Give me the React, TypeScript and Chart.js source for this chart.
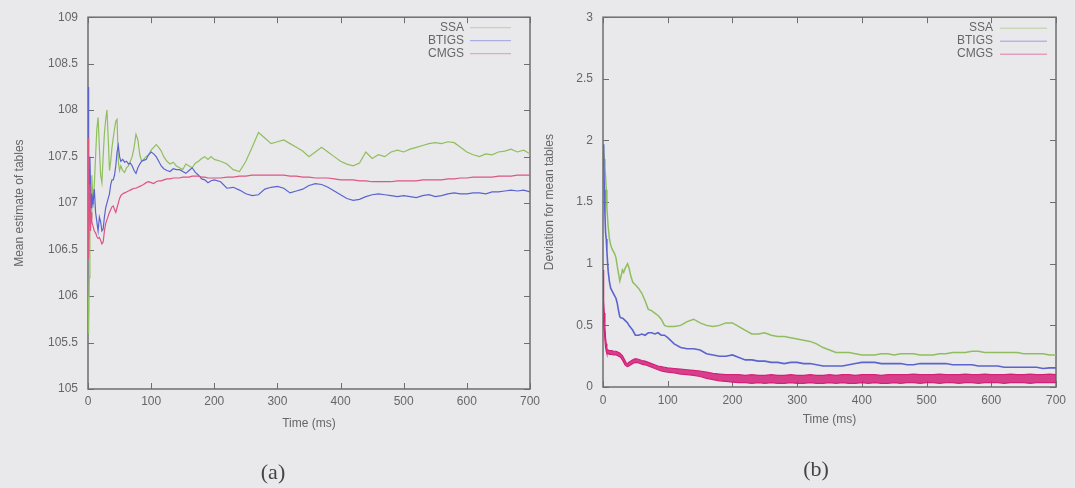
import React, { useEffect, useRef } from 'react';
import { Chart, registerables } from 'chart.js';

Chart.register(...registerables);

// ---------- Panel (a): mean estimate of tables ----------
const timeA = [
  0, 1, 2, 3, 4, 5, 6, 8, 10, 12, 14, 16, 18, 20, 22, 24, 26, 28, 30, 32, 34, 36, 38, 40, 42, 44, 46, 48, 50,
  52, 55, 58, 61, 64, 67, 70, 73, 76, 79, 82, 85, 88, 92, 96, 100, 104, 108, 112, 116, 120,
  125, 130, 135, 140, 145, 150, 155, 160, 165, 170, 175, 180, 185, 190, 195, 200,
  210, 220, 230, 240, 250, 260, 270, 280, 290, 300, 310, 320, 330, 340, 350, 360, 370, 380, 390, 400,
  410, 420, 430, 440, 450, 460, 470, 480, 490, 500, 510, 520, 530, 540, 550, 560, 570, 580, 590, 600,
  610, 620, 630, 640, 650, 660, 670, 680, 690, 700,
];

const ssaMean = [
  106.0, 105.6, 106.2, 106.7, 107.0, 106.85, 107.3, 107.0, 107.2, 107.5, 107.8, 107.92, 107.6, 107.3, 107.22,
  107.5, 107.75, 107.9, 108.0, 107.7, 107.35, 107.45, 107.6, 107.7, 107.8, 107.88, 107.9, 107.45, 107.35,
  107.4, 107.35, 107.33, 107.38, 107.4, 107.45, 107.5, 107.6, 107.74, 107.68, 107.52, 107.45, 107.47,
  107.5, 107.52, 107.57, 107.6, 107.63, 107.6, 107.56, 107.5,
  107.45, 107.42, 107.44, 107.4, 107.38, 107.36, 107.42, 107.4, 107.38, 107.43, 107.45, 107.48, 107.5, 107.47, 107.5, 107.47,
  107.45, 107.42, 107.36, 107.34, 107.45, 107.6, 107.76, 107.7, 107.64, 107.66,
  107.68, 107.64, 107.6, 107.56, 107.5, 107.55, 107.6, 107.55, 107.5, 107.45,
  107.42, 107.4, 107.43, 107.55, 107.48, 107.52, 107.5, 107.55, 107.57, 107.55,
  107.58, 107.6, 107.62, 107.64, 107.65, 107.64, 107.66, 107.65, 107.6, 107.55,
  107.52, 107.5, 107.53, 107.52, 107.55, 107.56, 107.58, 107.55, 107.57, 107.53,
];

const btigsMean = [
  108.25, 107.4, 106.9, 107.5, 107.2, 106.95, 107.1, 107.0, 107.15, 106.9, 106.8, 106.7, 106.85, 106.8, 106.7,
  106.72, 106.85, 106.95, 107.0, 107.05, 107.1, 107.2, 107.25, 107.25, 107.3, 107.4, 107.55, 107.62, 107.5,
  107.45, 107.47, 107.44, 107.45, 107.42, 107.43, 107.4, 107.35, 107.32, 107.38, 107.42, 107.45, 107.46,
  107.47, 107.52, 107.55, 107.53, 107.5, 107.45, 107.4, 107.37,
  107.35, 107.34, 107.37, 107.36, 107.36, 107.34, 107.32, 107.35, 107.38, 107.33, 107.3, 107.26, 107.25, 107.22, 107.24, 107.25,
  107.23, 107.16, 107.17, 107.14, 107.1, 107.08, 107.09, 107.15, 107.17, 107.18,
  107.16, 107.11, 107.13, 107.15, 107.19, 107.21, 107.2, 107.17, 107.13, 107.09,
  107.05, 107.03, 107.04, 107.07, 107.09, 107.1, 107.09, 107.08, 107.07, 107.08,
  107.07, 107.06, 107.08, 107.09, 107.07, 107.08, 107.1, 107.11, 107.1, 107.1,
  107.11, 107.11, 107.1, 107.12, 107.12, 107.13, 107.14, 107.13, 107.14, 107.12,
];

const cmgsMean = [
  107.7, 106.4, 106.9, 107.2, 106.7, 106.9, 106.8, 106.75, 106.7, 106.68, 106.64, 106.62, 106.63, 106.6, 106.56,
  106.58, 106.7, 106.78, 106.82, 106.86, 106.9, 106.93, 106.96, 106.97, 106.93, 106.9, 106.95, 107.0, 107.05,
  107.08, 107.1, 107.11, 107.12, 107.13, 107.14, 107.15, 107.16, 107.16, 107.17, 107.18, 107.19, 107.2,
  107.22, 107.23, 107.22, 107.21, 107.23, 107.24, 107.24, 107.25,
  107.26, 107.26, 107.27, 107.27, 107.27, 107.28, 107.28, 107.28, 107.29, 107.29, 107.29, 107.28, 107.28, 107.27, 107.27, 107.27,
  107.27, 107.28, 107.28, 107.29, 107.29, 107.3, 107.3, 107.3, 107.3, 107.3,
  107.3, 107.29, 107.29, 107.28, 107.28, 107.27, 107.27, 107.27, 107.26, 107.25,
  107.25, 107.25, 107.24, 107.24, 107.23, 107.23, 107.23, 107.23, 107.24, 107.24,
  107.24, 107.24, 107.25, 107.25, 107.25, 107.25, 107.26, 107.26, 107.27, 107.27,
  107.28, 107.28, 107.28, 107.28, 107.29, 107.29, 107.29, 107.3, 107.3, 107.3,
];

// ---------- Panel (b): deviation for mean tables ----------
const timeB = [
  0, 1, 2, 3, 4, 5, 6, 8, 10, 12, 14, 16, 18, 20, 22, 24, 26, 28, 30, 32, 34, 36, 38, 40, 43, 46, 50,
  55, 60, 65, 70, 75, 80, 85, 90, 95, 100,
  110, 120, 130, 140, 150, 160, 170, 180, 190, 200, 210, 220, 230, 240, 250, 260, 270, 280, 290, 300,
  310, 320, 330, 340, 350, 360, 370, 380, 390, 400, 410, 420, 430, 440, 450, 460, 470, 480, 490, 500,
  510, 520, 530, 540, 550, 560, 570, 580, 590, 600, 610, 620, 630, 640, 650, 660, 670, 680, 690, 700,
];

const ssaDev = [
  1.95, 1.92, 1.85, 1.78, 1.7, 1.6, 1.45,
  1.3, 1.2, 1.15, 1.12, 1.1, 1.08, 1.05, 0.98, 0.92, 0.86, 0.9, 0.95, 0.93, 0.96, 0.98, 1.0, 0.97,
  0.9, 0.85, 0.83,
  0.8, 0.76, 0.7, 0.63, 0.62, 0.6, 0.58, 0.55, 0.5, 0.49,
  0.49, 0.5, 0.53, 0.55, 0.52, 0.5, 0.49, 0.5, 0.52, 0.52,
  0.49, 0.46, 0.43, 0.43, 0.44, 0.42, 0.41, 0.41, 0.4, 0.39,
  0.38, 0.37, 0.35, 0.32, 0.3, 0.28, 0.28, 0.28, 0.27, 0.26,
  0.26, 0.26, 0.27, 0.27, 0.26, 0.27, 0.27, 0.27, 0.26, 0.26,
  0.26, 0.27, 0.27, 0.28, 0.28, 0.28, 0.29, 0.29, 0.28, 0.28,
  0.28, 0.28, 0.28, 0.28, 0.27, 0.27, 0.27, 0.27, 0.26, 0.26,
];

const btigsDev = [
  1.97, 1.9, 1.6, 1.4, 1.25, 1.2, 1.1,
  0.94, 0.85, 0.8, 0.78, 0.76, 0.74, 0.72, 0.68, 0.62, 0.57, 0.56, 0.56, 0.55, 0.54, 0.53, 0.52, 0.5,
  0.48, 0.46, 0.42,
  0.42, 0.43, 0.42, 0.44, 0.44, 0.43, 0.44, 0.42, 0.42, 0.4,
  0.35, 0.32, 0.31, 0.31, 0.3, 0.27, 0.26, 0.25, 0.25, 0.26,
  0.24, 0.22, 0.22, 0.21, 0.21, 0.2, 0.2, 0.19, 0.2, 0.2,
  0.19, 0.19, 0.18, 0.17, 0.17, 0.17, 0.17, 0.18, 0.19, 0.2,
  0.2, 0.2, 0.19, 0.19, 0.19, 0.19, 0.18, 0.18, 0.19, 0.19,
  0.19, 0.19, 0.19, 0.18, 0.18, 0.18, 0.18, 0.17, 0.17, 0.17,
  0.17, 0.16, 0.16, 0.16, 0.16, 0.16, 0.16, 0.15, 0.155, 0.155,
];

// CMGS deviation oscillates rapidly: upper and lower edges of its band
const cmgsDevHigh = [
  0.95, 0.7, 0.6, 0.48, 0.4, 0.35, 0.31,
  0.3, 0.295, 0.295, 0.295, 0.29, 0.29, 0.29, 0.285, 0.28, 0.275, 0.265, 0.255, 0.235, 0.215, 0.195, 0.19, 0.2,
  0.21, 0.22, 0.23,
  0.225, 0.215, 0.21, 0.2, 0.19, 0.18, 0.17, 0.165, 0.16, 0.155,
  0.15, 0.145, 0.14, 0.135, 0.13, 0.12, 0.11, 0.105, 0.1, 0.1,
  0.1, 0.095, 0.1, 0.095, 0.095, 0.1, 0.095, 0.095, 0.1, 0.095,
  0.095, 0.1, 0.095, 0.095, 0.1, 0.095, 0.1, 0.1, 0.095, 0.1,
  0.1, 0.1, 0.095, 0.1, 0.1, 0.1, 0.1, 0.105, 0.1, 0.1,
  0.1, 0.105, 0.1, 0.1, 0.1, 0.105, 0.1, 0.1, 0.105, 0.1,
  0.1, 0.1, 0.105, 0.1, 0.1, 0.105, 0.1, 0.1, 0.105, 0.1,
];

const cmgsDevLow = [
  0.55, 0.5, 0.45, 0.38, 0.32, 0.29, 0.27,
  0.27, 0.265, 0.265, 0.265, 0.26, 0.26, 0.26, 0.255, 0.25, 0.245, 0.235, 0.22, 0.2, 0.18, 0.17, 0.165, 0.17,
  0.18, 0.19, 0.2,
  0.195, 0.185, 0.18, 0.17, 0.16, 0.15, 0.14, 0.13, 0.125, 0.12,
  0.115, 0.105, 0.1, 0.095, 0.085, 0.07, 0.06, 0.05, 0.045, 0.04,
  0.035, 0.035, 0.03, 0.035, 0.03, 0.035, 0.03, 0.03, 0.035, 0.03,
  0.03, 0.035, 0.03, 0.03, 0.035, 0.03, 0.035, 0.03, 0.03, 0.035,
  0.03, 0.035, 0.03, 0.03, 0.035, 0.03, 0.035, 0.035, 0.03, 0.035,
  0.035, 0.03, 0.035, 0.035, 0.03, 0.035, 0.035, 0.03, 0.035, 0.035,
  0.035, 0.03, 0.035, 0.035, 0.035, 0.03, 0.035, 0.035, 0.035, 0.035,
];

// ---------- ticks ----------
const xTicks = [0, 100, 200, 300, 400, 500, 600, 700];
const yTicksA = [105, 105.5, 106, 106.5, 107, 107.5, 108, 108.5, 109];
const yTicksB = [0, 0.5, 1, 1.5, 2, 2.5, 3];

const SSA_COLOR = '#8fbe5e';
const BTIGS_COLOR = '#5b63cf';
const CMGS_COLOR_A = '#dd5582';
const CMGS_COLOR_B = '#d3217a';
const TEXT = '#666666';
const FRAME = '#6e6e6e';
const FONT = '"Liberation Sans", Arial, sans-serif';

const pts = (t: number[], v: number[]) => t.map((x, i) => ({ x, y: v[i] }));

const gnuFrame = {
  id: 'gnuFrame',
  beforeDatasetsDraw(chart: any, _a: any, o: any) {
    const { ctx, chartArea: a } = chart;
    const xs = chart.scales.x;
    const ys = chart.scales.y;
    ctx.save();
    ctx.strokeStyle = FRAME;
    ctx.lineWidth = 1;
    ctx.beginPath();
    for (const t of ys.ticks) {
      const y = Math.round(ys.getPixelForValue(t.value)) + 0.5;
      ctx.moveTo(a.left, y);
      ctx.lineTo(a.left + o.tickLen, y);
      ctx.moveTo(a.right, y);
      ctx.lineTo(a.right - o.tickLen, y);
    }
    for (const t of xs.ticks) {
      const x = Math.round(xs.getPixelForValue(t.value)) + 0.5;
      ctx.moveTo(x, a.bottom);
      ctx.lineTo(x, a.bottom - o.tickLen);
      ctx.moveTo(x, a.top);
      ctx.lineTo(x, a.top + o.tickLen);
    }
    ctx.stroke();
    ctx.lineWidth = 1.5;
    ctx.strokeRect(a.left, a.top, a.right - a.left, a.bottom - a.top);
    ctx.restore();
  },
  afterDatasetsDraw(chart: any, _a: any, o: any) {
    const { ctx, chartArea: a } = chart;
    const entries = chart.data.datasets.filter((d: any) => d.legendLabel);
    ctx.save();
    ctx.font = `12px ${FONT}`;
    ctx.textAlign = 'right';
    ctx.textBaseline = 'middle';
    entries.forEach((d: any, i: number) => {
      const y = a.top + o.legendTop + i * o.legendGap;
      const xr = a.right - o.legendRight;
      ctx.fillStyle = TEXT;
      ctx.fillText(d.legendLabel, xr, y);
      ctx.globalAlpha = 0.55;
      ctx.strokeStyle = d.legendColor || d.borderColor;
      ctx.lineWidth = 1;
      ctx.beginPath();
      ctx.moveTo(xr + o.sampleGap, y + 0.5);
      ctx.lineTo(xr + o.sampleGap + o.sampleLen, y + 0.5);
      ctx.stroke();
      ctx.globalAlpha = 1;
    });
    ctx.restore();
  },
};

type PanelSpec = {
  datasets: any[];
  yTicks: number[];
  yMin: number;
  yMax: number;
  yTitle: string;
  yWidth: number;
  xHeight: number;
  padTop: number;
  padRight: number;
  yTitlePad: number;
  xTitlePad: number;
  xTickPad: number;
  legend: any;
};

function buildConfig(s: PanelSpec): any {
  return {
    type: 'line',
    data: { datasets: s.datasets },
    plugins: [gnuFrame],
    options: {
      animation: false,
      responsive: false,
      events: [],
      layout: { padding: { top: s.padTop, right: s.padRight, left: 0, bottom: 0 } },
      elements: { point: { radius: 0 }, line: { tension: 0 } },
      plugins: {
        legend: { display: false },
        tooltip: { enabled: false },
        gnuFrame: s.legend,
      },
      scales: {
        x: {
          type: 'linear',
          min: 0,
          max: 700,
          afterBuildTicks: (sc: any) => {
            sc.ticks = xTicks.map((v) => ({ value: v }));
          },
          afterFit: (sc: any) => {
            sc.height = s.xHeight;
          },
          grid: { display: false, drawTicks: false },
          border: { display: false },
          ticks: {
            autoSkip: false,
            maxRotation: 0,
            padding: s.xTickPad,
            color: TEXT,
            font: { family: FONT, size: 12 },
            callback: (v: any) => String(v),
          },
          title: {
            display: true,
            text: 'Time (ms)',
            color: TEXT,
            font: { family: FONT, size: 12 },
            padding: { top: 0, bottom: s.xTitlePad },
          },
        },
        y: {
          type: 'linear',
          min: s.yMin,
          max: s.yMax,
          afterBuildTicks: (sc: any) => {
            sc.ticks = s.yTicks.map((v) => ({ value: v }));
          },
          afterFit: (sc: any) => {
            sc.width = s.yWidth;
          },
          grid: { display: false, drawTicks: false },
          border: { display: false },
          ticks: {
            autoSkip: false,
            padding: 10,
            color: TEXT,
            font: { family: FONT, size: 12 },
            callback: (v: any) => String(v),
          },
          title: {
            display: true,
            text: s.yTitle,
            color: TEXT,
            font: { family: FONT, size: 12 },
            padding: { top: s.yTitlePad, bottom: 0 },
          },
        },
      },
    },
  };
}

const specA: PanelSpec = {
  datasets: [
    {
      label: 'CMGS',
      legendLabel: '',
      data: pts(timeA, cmgsMean),
      borderColor: CMGS_COLOR_A,
      borderWidth: 1.2,
      order: 1,
    },
    {
      label: 'BTIGS',
      data: pts(timeA, btigsMean),
      borderColor: BTIGS_COLOR,
      borderWidth: 1.2,
      order: 2,
    },
    {
      label: 'SSA',
      data: pts(timeA, ssaMean),
      borderColor: SSA_COLOR,
      borderWidth: 1.2,
      order: 3,
    },
  ],
  yTicks: yTicksA,
  yMin: 105,
  yMax: 109,
  yTitle: 'Mean estimate of tables',
  yWidth: 88,
  xHeight: 99,
  padTop: 17,
  padRight: 13,
  yTitlePad: 12,
  xTitlePad: 57,
  xTickPad: 5,
  legend: { tickLen: 6, legendTop: 10, legendGap: 13, legendRight: 66, sampleGap: 6, sampleLen: 41 },
};

const specB: PanelSpec = {
  datasets: [
    {
      label: 'CMGS',
      data: pts(timeB, cmgsDevHigh),
      borderColor: CMGS_COLOR_B,
      borderWidth: 1.2,
      fill: false,
      order: 1,
    },
    {
      label: 'CMGS (lower edge)',
      data: pts(timeB, cmgsDevLow),
      borderColor: CMGS_COLOR_B,
      backgroundColor: 'rgba(211,33,122,0.85)',
      borderWidth: 1.2,
      fill: '-1',
      order: 1,
    },
    {
      label: 'BTIGS',
      data: pts(timeB, btigsDev),
      borderColor: BTIGS_COLOR,
      borderWidth: 1.6,
      order: 2,
    },
    {
      label: 'SSA',
      data: pts(timeB, ssaDev),
      borderColor: SSA_COLOR,
      borderWidth: 1.5,
      order: 3,
    },
  ],
  yTicks: yTicksB,
  yMin: 0,
  yMax: 3,
  yTitle: 'Deviation for mean tables',
  yWidth: 68,
  xHeight: 101,
  padTop: 14.5,
  padRight: 19,
  yTitlePad: 7,
  xTitlePad: 61,
  xTickPad: 6,
  legend: { tickLen: 6, legendTop: 10.5, legendGap: 13, legendRight: 63, sampleGap: 7, sampleLen: 47 },
};

// legend order (top to bottom): SSA, BTIGS, CMGS
specA.datasets[2].legendLabel = 'SSA';
specA.datasets[1].legendLabel = 'BTIGS';
specA.datasets[0].legendLabel = 'CMGS';
specB.datasets[3].legendLabel = 'SSA';
specB.datasets[2].legendLabel = 'BTIGS';
specB.datasets[0].legendLabel = 'CMGS';

function orderedForLegend(spec: PanelSpec): PanelSpec {
  // keep drawing order via `order`, but array order defines legend order
  const withLegend = spec.datasets.filter((d) => d.legendLabel);
  const order = ['SSA', 'BTIGS', 'CMGS'];
  const sorted = order.map((l) => withLegend.find((d) => d.legendLabel === l));
  const rest = spec.datasets.filter((d) => !d.legendLabel);
  return { ...spec, datasets: [...sorted, ...rest] };
}

function Panel({ spec, left, width }: { spec: PanelSpec; left: number; width: number }) {
  const ref = useRef<HTMLCanvasElement | null>(null);
  useEffect(() => {
    if (!ref.current) return;
    const s = orderedForLegend(spec);
    // fill '-1' must point at the upper edge dataset: use absolute index instead
    s.datasets = s.datasets.map((d) => ({ ...d }));
    const hiIdx = s.datasets.findIndex((d) => d.label === 'CMGS');
    s.datasets.forEach((d) => {
      if (d.fill === '-1') d.fill = hiIdx;
    });
    const chart = new Chart(ref.current, buildConfig(s));
    return () => chart.destroy();
  }, [spec]);
  return (
    <canvas
      ref={ref}
      width={width}
      height={488}
      style={{ position: 'absolute', left, top: 0, width, height: 488 }}
    />
  );
}

const captionStyle: React.CSSProperties = {
  position: 'absolute',
  fontFamily: '"Liberation Serif", "DejaVu Serif", serif',
  fontSize: 22,
  color: '#444',
  transform: 'translate(-50%, -50%)',
  lineHeight: 1,
};

export default function App() {
  return (
    <div
      style={{
        position: 'absolute',
        left: 0,
        top: 0,
        width: 1075,
        height: 488,
        background: '#e9e9eb',
        overflow: 'hidden',
      }}
    >
      <Panel spec={specA} left={0} width={545} />
      <Panel spec={specB} left={535} width={540} />
      <div style={{ ...captionStyle, left: 273, top: 472 }}>(a)</div>
      <div style={{ ...captionStyle, left: 816, top: 469 }}>(b)</div>
    </div>
  );
}
